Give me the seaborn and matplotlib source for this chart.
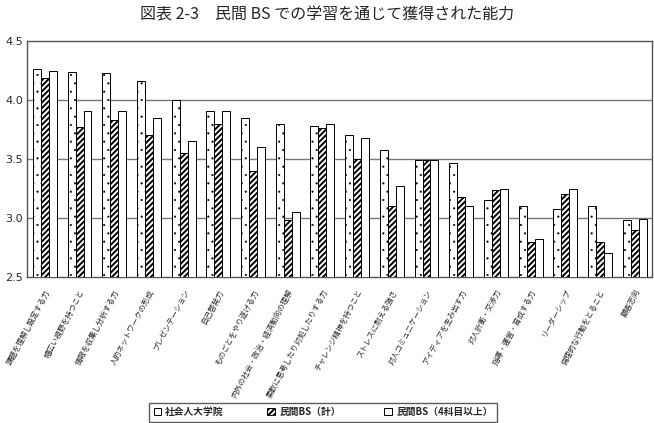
import pandas as pd
import matplotlib
matplotlib.use("Agg")
import matplotlib.pyplot as plt
import seaborn as sns
from matplotlib.patches import Patch

# data
abilities = [
    "課題を理解し設定する力", "幅広い視野を持つこと", "情報を収集し分析する力",
    "人的ネットワークの形成", "プレゼンテーション", "自己啓発力",
    "ものごとをやり遂げる力", "内外の社会・政治・経済動向の理解",
    "柔軟に思考したり対処したりする力", "チャレンジ精神を持つこと",
    "ストレスに耐える強さ", "対人コミュニケーション", "アイディアを生み出す力",
    "対人折衝・交渉力", "指導・運営・育成する力", "リーダーシップ",
    "倫理的な行動をとること", "顧客志向",
]
series = ["社会人大学院", "民間BS（計）", "民間BS（4科目以上）"]
grad_school = [4.26, 4.24, 4.23, 4.16, 4.00, 3.91, 3.85, 3.80, 3.78, 3.70,
               3.58, 3.49, 3.47, 3.15, 3.10, 3.08, 3.10, 2.98]
bs_total = [4.19, 3.77, 3.83, 3.70, 3.55, 3.80, 3.40, 2.98, 3.76, 3.50,
            3.10, 3.49, 3.18, 3.24, 2.80, 3.20, 2.80, 2.90]
bs_4plus = [4.25, 3.91, 3.91, 3.85, 3.65, 3.91, 3.60, 3.05, 3.80, 3.68,
            3.27, 3.49, 3.10, 3.25, 2.82, 3.25, 2.70, 2.99]
y_ticks = [2.5, 3.0, 3.5, 4.0, 4.5]

df = pd.DataFrame({
    "ability": abilities * 3,
    "series": [series[0]] * 18 + [series[1]] * 18 + [series[2]] * 18,
    "score": grad_school + bs_total + bs_4plus,
})

sns.set_style("white")
plt.rcParams["font.family"] = ["Noto Sans CJK JP", "DejaVu Sans"]
plt.rcParams["hatch.linewidth"] = 1.4

fig = plt.figure(figsize=(6.54, 4.23), dpi=100)
ax = fig.add_axes([0.042, 0.345, 0.955, 0.558])

sns.barplot(data=df, x="ability", y="score", hue="series", order=abilities,
            hue_order=series, palette=["white"] * 3, edgecolor="black",
            linewidth=0.7, width=0.69, gap=0, legend=False, ax=ax, zorder=3)

hatches = ["..", "//////", ""]
hatch_lw = [0.3, 1.4, 1.0]
for cont, h, lw in zip(ax.containers, hatches, hatch_lw):
    for bar in cont:
        bar.set_hatch(h)
        if hasattr(bar, "set_hatch_linewidth"):
            bar.set_hatch_linewidth(lw)
        bar.set_y(2.5)
        bar.set_height(bar.get_height() - 2.5)

ax.set_ylim(2.5, 4.5)
ax.set_xlim(-0.5, len(abilities) - 0.5)
ax.set_yticks(y_ticks)
ax.set_yticklabels([f"{v:.1f}" for v in y_ticks], fontsize=8,
                   family=["DejaVu Sans"])
for v in y_ticks[1:-1]:
    ax.axhline(v, color="#777777", linewidth=1.0, zorder=1)

ax.set_xticks(range(len(abilities)))
ax.set_xticklabels(abilities, rotation=62, ha="right", rotation_mode="anchor",
                   fontsize=5.5)
ax.tick_params(axis="x", length=0, pad=8)
ax.tick_params(axis="y", length=0, pad=3)
ax.set_xlabel("")
ax.set_ylabel("")
for s in ax.spines.values():
    s.set_color("#555555")
    s.set_linewidth(1.0)

fig.suptitle("図表 2-3　民間 BS での学習を通じて獲得された能力",
             fontsize=11.5, y=0.985)

handles = [Patch(facecolor="white", edgecolor="black", hatch=h, linewidth=0.7)
           for h in ["", "//////", ""]]
leg = fig.legend(handles, series, loc="lower center", ncol=3,
                 bbox_to_anchor=(0.494, -0.008), frameon=True, fancybox=False,
                 handlelength=0.8, handleheight=0.8,
                 columnspacing=4.5, borderpad=0.45, handletextpad=0.4,
                 prop={"weight": "bold", "size": 7})
leg.get_frame().set_edgecolor("#333333")
leg.get_frame().set_linewidth(1.0)

fig.savefig("out.png", dpi=100)
